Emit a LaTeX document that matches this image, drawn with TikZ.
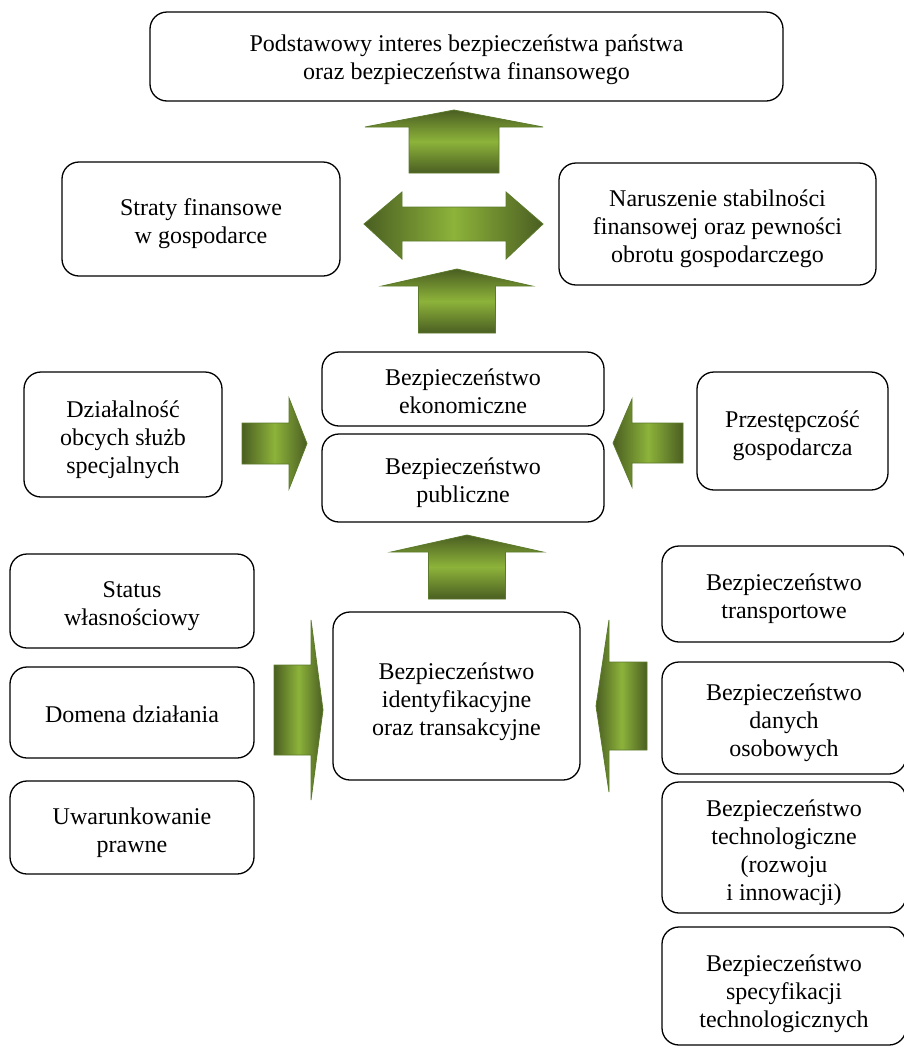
\documentclass[tikz,border=0pt]{standalone}
\usepackage{fontspec}
\setmainfont{Liberation Serif}
\definecolor{adark}{HTML}{4A5E22}
\definecolor{alight}{HTML}{8DB33A}
\definecolor{aedge}{HTML}{5B7A2A}
\tikzset{
  box/.style={draw=black, line width=1.3pt, rounded corners=17pt, inner sep=0pt},
  lbl/.style={align=center, font=\fontsize{24}{28}\selectfont, inner sep=0pt, yshift=-5pt},
  varrow/.style={draw=aedge, line width=0.8pt, top color=adark, bottom color=adark, middle color=alight},
  harrow/.style={draw=aedge, line width=0.8pt, left color=adark, right color=adark, middle color=alight},
}
% up arrow: cx, tipY, headBaseY, headHalfW, shaftHalfW, bottomY
\newcommand\UpArr[6]{%
  \path[varrow] (#1,#2) -- (#1+#4,#3) -- (#1+#5,#3) -- (#1+#5,#6) -- (#1-#5,#6) -- (#1-#5,#3) -- (#1-#4,#3) -- cycle;}
% horizontal arrow: cy, tipX, headBaseX, headHalfH, shaftHalfH, tailX
\newcommand\HorArr[6]{%
  \path[harrow] (#2,#1) -- (#3,#1-#4) -- (#3,#1-#5) -- (#6,#1-#5) -- (#6,#1+#5) -- (#3,#1+#5) -- (#3,#1+#4) -- cycle;}
\begin{document}
\begin{tikzpicture}[x=1pt,y=-1pt]
\useasboundingbox (0,0) rectangle (903,1050);
% boxes
\node[box, minimum width=633pt, minimum height=89pt, label={[lbl,yshift=2pt]center:{Podstawowy interes bezpieczeństwa państwa\\oraz bezpieczeństwa finansowego}}] (top) at (466.5,56.5) {};
\node[box, minimum width=278pt, minimum height=114pt, label={[lbl]center:{Straty finansowe\\w gospodarce}}] (straty) at (201,219) {};
\node[box, minimum width=317pt, minimum height=122pt, label={[lbl]center:{Naruszenie stabilności\\finansowej oraz pewności\\obrotu gospodarczego}}] (narusz) at (717.5,224) {};
\node[box, minimum width=282pt, minimum height=74pt, label={[lbl,yshift=3pt]center:{Bezpieczeństwo\\ekonomiczne}}] (ekon) at (463,389) {};
\node[box, minimum width=282pt, minimum height=88pt, label={[lbl]center:{Bezpieczeństwo\\publiczne}}] (publ) at (463,478) {};
\node[box, minimum width=198pt, minimum height=125pt, label={[lbl]center:{Działalność\\obcych służb\\specjalnych}}] (dzial) at (123,434.5) {};
\node[box, minimum width=191pt, minimum height=118pt, label={[lbl]center:{Przestępczość\\gospodarcza}}] (przest) at (792.5,431) {};
\node[box, minimum width=244pt, minimum height=94pt, label={[lbl]center:{Status\\własnościowy}}] (status) at (132,601) {};
\node[box, minimum width=244pt, minimum height=91pt, label={[lbl,yshift=3pt]center:{Domena działania}}] (domena) at (132,712.5) {};
\node[box, minimum width=244pt, minimum height=93pt, label={[lbl]center:{Uwarunkowanie\\prawne}}] (uwar) at (132,827.5) {};
\node[box, minimum width=247pt, minimum height=168pt, label={[lbl,yshift=-1pt]center:{Bezpieczeństwo\\identyfikacyjne\\oraz transakcyjne}}] (ident) at (456.5,696) {};
\node[box, minimum width=244pt, minimum height=96pt, label={[lbl]center:{Bezpieczeństwo\\transportowe}}] (transp) at (784,594) {};
\node[box, minimum width=244pt, minimum height=112pt, label={[lbl]center:{Bezpieczeństwo\\danych\\osobowych}}] (dane) at (784,718) {};
\node[box, minimum width=244pt, minimum height=131pt, label={[lbl]center:{Bezpieczeństwo\\technologiczne\\(rozwoju\\i innowacji)}}] (techn) at (784,847.5) {};
\node[box, minimum width=244pt, minimum height=118pt, label={[lbl,yshift=-3pt]center:{Bezpieczeństwo\\specyfikacji\\technologicznych}}] (spec) at (784,986) {};
% block arrows
\UpArr{454}{110}{127}{89}{45}{173}
\path[harrow] (364,224) -- (402,192) -- (402,207) -- (506,207) -- (506,192) -- (543,224) -- (506,259) -- (506,241) -- (402,241) -- (402,259) -- cycle;
\UpArr{457}{269}{286}{75}{38.5}{333}
\HorArr{443.5}{307}{289}{45.5}{20.5}{242}
\HorArr{443}{613}{632}{44}{20}{683}
\UpArr{467}{535}{552}{76}{38.5}{599}
\HorArr{710}{323}{311}{90}{45}{274}
\HorArr{706}{596}{609}{86}{44}{647}
\end{tikzpicture}
\end{document}
